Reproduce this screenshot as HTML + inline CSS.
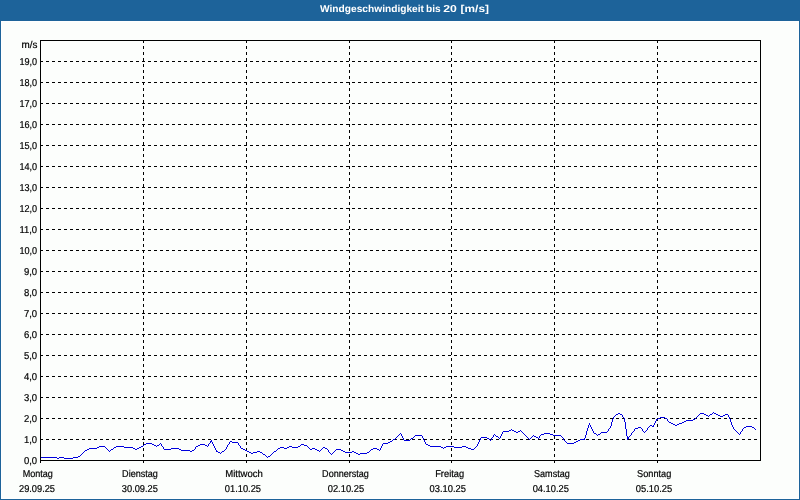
<!DOCTYPE html>
<html lang="de"><head><meta charset="utf-8"><title>Windgeschwindigkeit bis 20 [m/s]</title>
<style>
html,body{margin:0;padding:0;background:#fcfefc;}
body{width:800px;height:500px;overflow:hidden;position:relative;font-family:"Liberation Sans","DejaVu Sans",sans-serif;}
svg{position:absolute;left:0;top:0;display:block}
text{font-family:"Liberation Sans","DejaVu Sans",sans-serif;text-rendering:geometricPrecision;}
.t{font-size:10px;fill:#000;stroke:#000;stroke-width:0.2px;}
.h{font-size:10px;font-weight:bold;fill:#fff;}
</style></head><body>
<svg width="800" height="500" viewBox="0 0 800 500">
<rect x="0" y="0" width="800" height="500" fill="#1d639a"/>
<rect x="0" y="0" width="800" height="20" fill="#1d639a"/>
<rect x="1" y="21" width="798" height="478" fill="#ffffff"/>
<rect x="2" y="22" width="796" height="476" fill="#fcfefc"/>
<text class="h" y="12"><tspan x="320" textLength="104" lengthAdjust="spacingAndGlyphs">Windgeschwindigkeit</tspan> <tspan x="426" textLength="14.6" lengthAdjust="spacingAndGlyphs">bis</tspan> <tspan x="443.2" textLength="13.6" lengthAdjust="spacingAndGlyphs">20</tspan> <tspan x="460.6" textLength="28.4" lengthAdjust="spacingAndGlyphs">[m/s]</tspan></text>
<g shape-rendering="crispEdges" stroke="#000" stroke-width="1" fill="none">
<line x1="40" y1="439.5" x2="760" y2="439.5" stroke-dasharray="3 3" stroke-dashoffset="0"/>
<line x1="40" y1="418.5" x2="760" y2="418.5" stroke-dasharray="3 3" stroke-dashoffset="0"/>
<line x1="40" y1="397.5" x2="760" y2="397.5" stroke-dasharray="3 3" stroke-dashoffset="0"/>
<line x1="40" y1="376.5" x2="760" y2="376.5" stroke-dasharray="3 3" stroke-dashoffset="0"/>
<line x1="40" y1="355.5" x2="760" y2="355.5" stroke-dasharray="3 3" stroke-dashoffset="0"/>
<line x1="40" y1="334.5" x2="760" y2="334.5" stroke-dasharray="3 3" stroke-dashoffset="0"/>
<line x1="40" y1="313.5" x2="760" y2="313.5" stroke-dasharray="3 3" stroke-dashoffset="0"/>
<line x1="40" y1="292.5" x2="760" y2="292.5" stroke-dasharray="3 3" stroke-dashoffset="0"/>
<line x1="40" y1="271.5" x2="760" y2="271.5" stroke-dasharray="3 3" stroke-dashoffset="0"/>
<line x1="40" y1="250.5" x2="760" y2="250.5" stroke-dasharray="3 3" stroke-dashoffset="0"/>
<line x1="40" y1="229.5" x2="760" y2="229.5" stroke-dasharray="3 3" stroke-dashoffset="0"/>
<line x1="40" y1="208.5" x2="760" y2="208.5" stroke-dasharray="3 3" stroke-dashoffset="0"/>
<line x1="40" y1="187.5" x2="760" y2="187.5" stroke-dasharray="3 3" stroke-dashoffset="0"/>
<line x1="40" y1="166.5" x2="760" y2="166.5" stroke-dasharray="3 3" stroke-dashoffset="0"/>
<line x1="40" y1="145.5" x2="760" y2="145.5" stroke-dasharray="3 3" stroke-dashoffset="0"/>
<line x1="40" y1="124.5" x2="760" y2="124.5" stroke-dasharray="3 3" stroke-dashoffset="0"/>
<line x1="40" y1="103.5" x2="760" y2="103.5" stroke-dasharray="3 3" stroke-dashoffset="0"/>
<line x1="40" y1="82.5" x2="760" y2="82.5" stroke-dasharray="3 3" stroke-dashoffset="0"/>
<line x1="40" y1="61.5" x2="760" y2="61.5" stroke-dasharray="3 3" stroke-dashoffset="0"/>
<line x1="143.5" y1="40" x2="143.5" y2="460" stroke-dasharray="3 3"/>
<line x1="143.5" y1="460" x2="143.5" y2="463"/>
<line x1="246.5" y1="40" x2="246.5" y2="460" stroke-dasharray="3 3"/>
<line x1="246.5" y1="460" x2="246.5" y2="463"/>
<line x1="349.5" y1="40" x2="349.5" y2="460" stroke-dasharray="3 3"/>
<line x1="349.5" y1="460" x2="349.5" y2="463"/>
<line x1="451.5" y1="40" x2="451.5" y2="460" stroke-dasharray="3 3"/>
<line x1="451.5" y1="460" x2="451.5" y2="463"/>
<line x1="554.5" y1="40" x2="554.5" y2="460" stroke-dasharray="3 3"/>
<line x1="554.5" y1="460" x2="554.5" y2="463"/>
<line x1="657.5" y1="40" x2="657.5" y2="460" stroke-dasharray="3 3"/>
<line x1="657.5" y1="460" x2="657.5" y2="463"/>
<rect x="40.5" y="40.5" width="720" height="420"/>
<line x1="40.5" y1="460" x2="40.5" y2="463"/>
</g>
<path d="M713 412h1v1h-1zM618 413h2v1h-2zM700 413h4v1h-4zM712 413h1v1h-1zM714 413h2v1h-2zM616 414h2v1h-2zM620 414h2v1h-2zM699 414h1v1h-1zM704 414h2v1h-2zM710 414h2v1h-2zM716 414h2v1h-2zM725 414h3v1h-3zM615 415h1v1h-1zM622 415h1v1h-1zM698 415h1v1h-1zM706 415h2v1h-2zM709 415h1v1h-1zM718 415h2v1h-2zM723 415h2v1h-2zM728 415h1v1h-1zM614 416h1v1h-1zM622 416h1v1h-1zM697 416h1v1h-1zM708 416h1v1h-1zM720 416h3v1h-3zM728 416h1v1h-1zM613 417h1v1h-1zM623 417h1v1h-1zM660 417h5v1h-5zM696 417h1v1h-1zM729 417h1v1h-1zM613 418h1v1h-1zM624 418h1v1h-1zM658 418h2v1h-2zM665 418h2v1h-2zM695 418h1v1h-1zM729 418h1v1h-1zM612 419h1v1h-1zM624 419h1v1h-1zM656 419h2v1h-2zM667 419h1v1h-1zM693 419h2v1h-2zM730 419h1v1h-1zM612 420h1v1h-1zM624 420h1v1h-1zM656 420h1v1h-1zM667 420h1v1h-1zM686 420h7v1h-7zM730 420h1v1h-1zM612 421h1v1h-1zM624 421h1v1h-1zM655 421h1v1h-1zM668 421h1v1h-1zM684 421h2v1h-2zM730 421h1v1h-1zM611 422h1v1h-1zM625 422h1v1h-1zM655 422h1v1h-1zM669 422h2v1h-2zM682 422h2v1h-2zM731 422h1v1h-1zM589 423h1v1h-1zM611 423h1v1h-1zM625 423h1v1h-1zM654 423h1v1h-1zM671 423h2v1h-2zM679 423h3v1h-3zM731 423h1v1h-1zM589 424h1v1h-1zM611 424h1v1h-1zM625 424h1v1h-1zM654 424h1v1h-1zM673 424h2v1h-2zM677 424h2v1h-2zM731 424h1v1h-1zM588 425h1v1h-1zM590 425h1v1h-1zM611 425h1v1h-1zM625 425h1v1h-1zM650 425h2v1h-2zM653 425h1v1h-1zM675 425h2v1h-2zM732 425h1v1h-1zM588 426h1v1h-1zM590 426h1v1h-1zM610 426h1v1h-1zM625 426h1v1h-1zM649 426h1v1h-1zM652 426h2v1h-2zM732 426h1v1h-1zM746 426h6v1h-6zM588 427h1v1h-1zM591 427h1v1h-1zM610 427h1v1h-1zM625 427h1v1h-1zM638 427h3v1h-3zM648 427h1v1h-1zM733 427h1v1h-1zM744 427h2v1h-2zM752 427h2v1h-2zM587 428h1v1h-1zM591 428h1v1h-1zM609 428h1v1h-1zM625 428h1v1h-1zM635 428h3v1h-3zM641 428h1v1h-1zM647 428h1v1h-1zM733 428h1v1h-1zM743 428h1v1h-1zM754 428h1v1h-1zM511 429h1v1h-1zM587 429h1v1h-1zM592 429h1v1h-1zM608 429h1v1h-1zM626 429h1v1h-1zM634 429h1v1h-1zM642 429h1v1h-1zM647 429h1v1h-1zM734 429h1v1h-1zM742 429h1v1h-1zM755 429h1v1h-1zM509 430h2v1h-2zM512 430h2v1h-2zM520 430h1v1h-1zM587 430h1v1h-1zM592 430h1v1h-1zM608 430h1v1h-1zM626 430h1v1h-1zM634 430h1v1h-1zM642 430h1v1h-1zM646 430h1v1h-1zM735 430h1v1h-1zM742 430h1v1h-1zM503 431h6v1h-6zM514 431h2v1h-2zM518 431h2v1h-2zM521 431h1v1h-1zM586 431h1v1h-1zM593 431h1v1h-1zM607 431h1v1h-1zM626 431h1v1h-1zM633 431h1v1h-1zM643 431h1v1h-1zM645 431h1v1h-1zM736 431h1v1h-1zM741 431h1v1h-1zM502 432h1v1h-1zM516 432h2v1h-2zM522 432h1v1h-1zM586 432h1v1h-1zM593 432h1v1h-1zM601 432h6v1h-6zM626 432h1v1h-1zM632 432h1v1h-1zM644 432h1v1h-1zM737 432h1v1h-1zM740 432h1v1h-1zM400 433h1v1h-1zM502 433h1v1h-1zM523 433h1v1h-1zM544 433h6v1h-6zM586 433h1v1h-1zM594 433h2v1h-2zM600 433h1v1h-1zM626 433h1v1h-1zM631 433h1v1h-1zM738 433h1v1h-1zM740 433h1v1h-1zM399 434h1v1h-1zM401 434h1v1h-1zM494 434h1v1h-1zM501 434h1v1h-1zM524 434h1v1h-1zM541 434h3v1h-3zM550 434h3v1h-3zM586 434h1v1h-1zM596 434h1v1h-1zM598 434h2v1h-2zM626 434h1v1h-1zM631 434h1v1h-1zM739 434h1v1h-1zM398 435h1v1h-1zM401 435h1v1h-1zM415 435h7v1h-7zM493 435h1v1h-1zM495 435h1v1h-1zM501 435h1v1h-1zM525 435h1v1h-1zM533 435h1v1h-1zM540 435h1v1h-1zM553 435h8v1h-8zM585 435h1v1h-1zM597 435h1v1h-1zM626 435h1v1h-1zM630 435h1v1h-1zM397 436h1v1h-1zM402 436h1v1h-1zM414 436h1v1h-1zM422 436h1v1h-1zM493 436h1v1h-1zM496 436h2v1h-2zM500 436h1v1h-1zM526 436h1v1h-1zM532 436h1v1h-1zM534 436h2v1h-2zM539 436h1v1h-1zM561 436h1v1h-1zM585 436h1v1h-1zM627 436h1v1h-1zM629 436h1v1h-1zM396 437h1v1h-1zM402 437h1v1h-1zM413 437h1v1h-1zM422 437h1v1h-1zM481 437h6v1h-6zM492 437h1v1h-1zM498 437h1v1h-1zM500 437h1v1h-1zM527 437h1v1h-1zM531 437h1v1h-1zM536 437h2v1h-2zM539 437h1v1h-1zM562 437h1v1h-1zM585 437h1v1h-1zM627 437h2v1h-2zM395 438h1v1h-1zM403 438h1v1h-1zM411 438h2v1h-2zM423 438h1v1h-1zM480 438h1v1h-1zM487 438h2v1h-2zM491 438h1v1h-1zM499 438h1v1h-1zM528 438h1v1h-1zM530 438h1v1h-1zM538 438h1v1h-1zM563 438h1v1h-1zM584 438h1v1h-1zM627 438h2v1h-2zM393 439h2v1h-2zM403 439h1v1h-1zM410 439h1v1h-1zM423 439h1v1h-1zM480 439h1v1h-1zM489 439h1v1h-1zM491 439h1v1h-1zM529 439h1v1h-1zM563 439h1v1h-1zM580 439h5v1h-5zM627 439h1v1h-1zM211 440h1v1h-1zM392 440h1v1h-1zM404 440h6v1h-6zM424 440h1v1h-1zM479 440h1v1h-1zM490 440h1v1h-1zM564 440h1v1h-1zM578 440h2v1h-2zM210 441h2v1h-2zM230 441h2v1h-2zM390 441h2v1h-2zM424 441h1v1h-1zM479 441h1v1h-1zM565 441h1v1h-1zM576 441h2v1h-2zM210 442h1v1h-1zM212 442h1v1h-1zM229 442h1v1h-1zM232 442h6v1h-6zM388 442h2v1h-2zM425 442h1v1h-1zM478 442h1v1h-1zM566 442h1v1h-1zM574 442h2v1h-2zM146 443h6v1h-6zM160 443h1v1h-1zM209 443h1v1h-1zM212 443h1v1h-1zM229 443h1v1h-1zM238 443h1v1h-1zM383 443h5v1h-5zM425 443h1v1h-1zM478 443h1v1h-1zM567 443h7v1h-7zM144 444h2v1h-2zM152 444h2v1h-2zM159 444h1v1h-1zM161 444h1v1h-1zM200 444h5v1h-5zM208 444h1v1h-1zM213 444h1v1h-1zM228 444h1v1h-1zM238 444h1v1h-1zM301 444h3v1h-3zM382 444h1v1h-1zM426 444h2v1h-2zM477 444h1v1h-1zM143 445h1v1h-1zM154 445h2v1h-2zM157 445h2v1h-2zM161 445h1v1h-1zM198 445h2v1h-2zM205 445h2v1h-2zM208 445h1v1h-1zM213 445h1v1h-1zM227 445h1v1h-1zM239 445h1v1h-1zM300 445h1v1h-1zM304 445h3v1h-3zM382 445h1v1h-1zM428 445h2v1h-2zM477 445h1v1h-1zM99 446h6v1h-6zM116 446h8v1h-8zM141 446h2v1h-2zM156 446h1v1h-1zM162 446h1v1h-1zM196 446h2v1h-2zM207 446h1v1h-1zM214 446h1v1h-1zM227 446h1v1h-1zM240 446h1v1h-1zM289 446h3v1h-3zM298 446h2v1h-2zM307 446h1v1h-1zM381 446h1v1h-1zM430 446h11v1h-11zM446 446h8v1h-8zM462 446h4v1h-4zM476 446h1v1h-1zM97 447h2v1h-2zM105 447h1v1h-1zM114 447h2v1h-2zM124 447h9v1h-9zM139 447h2v1h-2zM163 447h1v1h-1zM195 447h1v1h-1zM214 447h1v1h-1zM226 447h1v1h-1zM240 447h1v1h-1zM280 447h4v1h-4zM287 447h2v1h-2zM292 447h6v1h-6zM308 447h1v1h-1zM323 447h2v1h-2zM381 447h1v1h-1zM441 447h2v1h-2zM444 447h2v1h-2zM454 447h8v1h-8zM466 447h2v1h-2zM475 447h1v1h-1zM89 448h8v1h-8zM106 448h1v1h-1zM113 448h1v1h-1zM133 448h2v1h-2zM137 448h2v1h-2zM163 448h1v1h-1zM171 448h8v1h-8zM195 448h1v1h-1zM215 448h1v1h-1zM226 448h1v1h-1zM241 448h2v1h-2zM278 448h2v1h-2zM284 448h3v1h-3zM309 448h1v1h-1zM312 448h3v1h-3zM322 448h1v1h-1zM325 448h2v1h-2zM373 448h4v1h-4zM380 448h1v1h-1zM443 448h1v1h-1zM468 448h3v1h-3zM474 448h1v1h-1zM87 449h2v1h-2zM107 449h1v1h-1zM111 449h2v1h-2zM135 449h2v1h-2zM164 449h7v1h-7zM179 449h2v1h-2zM194 449h1v1h-1zM215 449h1v1h-1zM225 449h1v1h-1zM243 449h2v1h-2zM277 449h1v1h-1zM310 449h2v1h-2zM315 449h2v1h-2zM321 449h1v1h-1zM327 449h1v1h-1zM336 449h5v1h-5zM371 449h2v1h-2zM377 449h2v1h-2zM380 449h1v1h-1zM471 449h3v1h-3zM85 450h2v1h-2zM108 450h1v1h-1zM110 450h1v1h-1zM181 450h9v1h-9zM192 450h2v1h-2zM216 450h1v1h-1zM224 450h1v1h-1zM245 450h2v1h-2zM276 450h1v1h-1zM317 450h2v1h-2zM320 450h1v1h-1zM328 450h1v1h-1zM335 450h1v1h-1zM341 450h2v1h-2zM370 450h1v1h-1zM379 450h1v1h-1zM84 451h1v1h-1zM109 451h1v1h-1zM190 451h2v1h-2zM216 451h2v1h-2zM222 451h2v1h-2zM247 451h2v1h-2zM257 451h3v1h-3zM274 451h2v1h-2zM319 451h1v1h-1zM328 451h1v1h-1zM334 451h1v1h-1zM343 451h2v1h-2zM352 451h2v1h-2zM369 451h1v1h-1zM83 452h1v1h-1zM218 452h2v1h-2zM221 452h1v1h-1zM249 452h2v1h-2zM253 452h4v1h-4zM260 452h2v1h-2zM273 452h1v1h-1zM329 452h1v1h-1zM333 452h1v1h-1zM345 452h7v1h-7zM354 452h2v1h-2zM367 452h2v1h-2zM82 453h1v1h-1zM220 453h1v1h-1zM251 453h2v1h-2zM262 453h1v1h-1zM272 453h1v1h-1zM330 453h1v1h-1zM332 453h1v1h-1zM356 453h2v1h-2zM360 453h7v1h-7zM81 454h1v1h-1zM263 454h2v1h-2zM271 454h1v1h-1zM331 454h1v1h-1zM358 454h2v1h-2zM80 455h1v1h-1zM265 455h1v1h-1zM270 455h1v1h-1zM78 456h2v1h-2zM266 456h1v1h-1zM268 456h2v1h-2zM41 457h16v1h-16zM59 457h5v1h-5zM73 457h5v1h-5zM267 457h1v1h-1zM57 458h2v1h-2zM64 458h9v1h-9z" fill="#0000dd" shape-rendering="crispEdges"/>
<text class="t" x="21.50" y="48" textLength="15.90" lengthAdjust="spacingAndGlyphs">m/s</text>
<text class="t" x="23.90" y="464" textLength="13.20" lengthAdjust="spacingAndGlyphs">0,0</text>
<text class="t" x="23.90" y="443" textLength="13.20" lengthAdjust="spacingAndGlyphs">1,0</text>
<text class="t" x="23.90" y="422" textLength="13.20" lengthAdjust="spacingAndGlyphs">2,0</text>
<text class="t" x="23.90" y="401" textLength="13.20" lengthAdjust="spacingAndGlyphs">3,0</text>
<text class="t" x="23.90" y="380" textLength="13.20" lengthAdjust="spacingAndGlyphs">4,0</text>
<text class="t" x="23.90" y="359" textLength="13.20" lengthAdjust="spacingAndGlyphs">5,0</text>
<text class="t" x="23.90" y="338" textLength="13.20" lengthAdjust="spacingAndGlyphs">6,0</text>
<text class="t" x="23.90" y="317" textLength="13.20" lengthAdjust="spacingAndGlyphs">7,0</text>
<text class="t" x="23.90" y="296" textLength="13.20" lengthAdjust="spacingAndGlyphs">8,0</text>
<text class="t" x="23.90" y="275" textLength="13.20" lengthAdjust="spacingAndGlyphs">9,0</text>
<text class="t" x="19.40" y="254" textLength="17.70" lengthAdjust="spacingAndGlyphs">10,0</text>
<text class="t" x="19.40" y="233" textLength="17.70" lengthAdjust="spacingAndGlyphs">11,0</text>
<text class="t" x="19.40" y="212" textLength="17.70" lengthAdjust="spacingAndGlyphs">12,0</text>
<text class="t" x="19.40" y="191" textLength="17.70" lengthAdjust="spacingAndGlyphs">13,0</text>
<text class="t" x="19.40" y="170" textLength="17.70" lengthAdjust="spacingAndGlyphs">14,0</text>
<text class="t" x="19.40" y="149" textLength="17.70" lengthAdjust="spacingAndGlyphs">15,0</text>
<text class="t" x="19.40" y="128" textLength="17.70" lengthAdjust="spacingAndGlyphs">16,0</text>
<text class="t" x="19.40" y="107" textLength="17.70" lengthAdjust="spacingAndGlyphs">17,0</text>
<text class="t" x="19.40" y="86" textLength="17.70" lengthAdjust="spacingAndGlyphs">18,0</text>
<text class="t" x="19.40" y="65" textLength="17.70" lengthAdjust="spacingAndGlyphs">19,0</text>
<text class="t" x="22.70" y="477" textLength="30.20" lengthAdjust="spacingAndGlyphs">Montag</text>
<text class="t" x="19.00" y="492" textLength="36.00" lengthAdjust="spacingAndGlyphs">29.09.25</text>
<text class="t" x="122.10" y="477" textLength="35.80" lengthAdjust="spacingAndGlyphs">Dienstag</text>
<text class="t" x="121.85" y="492" textLength="36.05" lengthAdjust="spacingAndGlyphs">30.09.25</text>
<text class="t" x="225.20" y="477" textLength="37.70" lengthAdjust="spacingAndGlyphs">Mittwoch</text>
<text class="t" x="224.85" y="492" textLength="36.15" lengthAdjust="spacingAndGlyphs">01.10.25</text>
<text class="t" x="322.10" y="477" textLength="46.80" lengthAdjust="spacingAndGlyphs">Donnerstag</text>
<text class="t" x="327.70" y="492" textLength="36.45" lengthAdjust="spacingAndGlyphs">02.10.25</text>
<text class="t" x="435.20" y="477" textLength="28.95" lengthAdjust="spacingAndGlyphs">Freitag</text>
<text class="t" x="429.60" y="492" textLength="36.40" lengthAdjust="spacingAndGlyphs">03.10.25</text>
<text class="t" x="534.00" y="477" textLength="35.80" lengthAdjust="spacingAndGlyphs">Samstag</text>
<text class="t" x="532.70" y="492" textLength="36.20" lengthAdjust="spacingAndGlyphs">04.10.25</text>
<text class="t" x="637.10" y="477" textLength="34.20" lengthAdjust="spacingAndGlyphs">Sonntag</text>
<text class="t" x="635.85" y="492" textLength="36.45" lengthAdjust="spacingAndGlyphs">05.10.25</text>
</svg>
</body></html>
